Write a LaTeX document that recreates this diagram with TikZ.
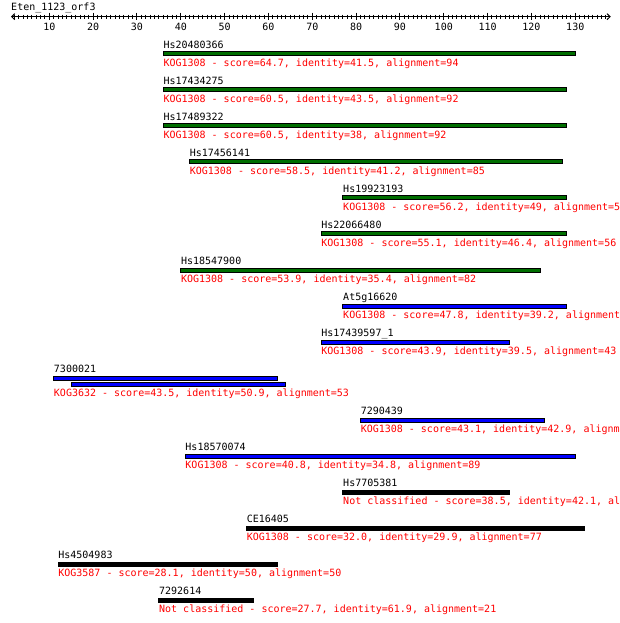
\documentclass[tikz,border=0pt]{standalone}
\usepackage{fontspec}
\setmainfont{DejaVu Sans Mono}
\usepackage{tikz}
\usetikzlibrary{arrows.meta}
\definecolor{kog-green}{RGB}{0,110,0}
\definecolor{kog-blue}{RGB}{0,0,255}
\definecolor{kog-black}{RGB}{0,0,0}
\definecolor{kog-red}{RGB}{255,0,0}

\tikzset{
  hitname/.style={anchor=base west, inner sep=0pt},
  hitinfo/.style={anchor=base west, inner sep=0pt, text=kog-red},
  hitbar/.style={draw=black, line width=0.75pt},
  ruler/.style={line width=0.75pt},
}

\begin{document}
\begin{tikzpicture}[x=3.287pt, y=-0.75pt, font=\fontsize{7.5pt}{9pt}\selectfont]
    \useasboundingbox (-1.255,0) rectangle (140.2,623);
    \clip (-1.255,0) rectangle (140.2,623);

    \node[hitname] (query) at (1.25,10.6) {Eten\_1123\_orf3};
    \draw[ruler, {Straight Barb[length=2.3pt,width=4.5pt]}-{Straight Barb[length=2.3pt,width=4.5pt]}]
        (1.25,16.7) -- (138.1,16.7);
    \foreach \i in {2,...,137}
        \draw[ruler] (\i,14.7) -- (\i,18.7);
    \foreach \i in {10,20,...,130} {
        \draw[ruler] (\i,12.7) -- (\i,20.3);
        \node[anchor=base, inner sep=0pt] (tick\i) at (\i,30.5) {\i};
    }

    \draw[hitbar, fill=kog-green] (36,52) rectangle (130,56);
    \node[hitname] (hs20480366) at (36,48.3) {Hs20480366};
    \node[hitinfo] (hs20480366-info) at (36,66.7) {KOG1308 - score=64.7, identity=41.5, alignment=94};

    \draw[hitbar, fill=kog-green] (36,88) rectangle (128,92);
    \node[hitname] (hs17434275) at (36,84.3) {Hs17434275};
    \node[hitinfo] (hs17434275-info) at (36,102.7) {KOG1308 - score=60.5, identity=43.5, alignment=92};

    \draw[hitbar, fill=kog-green] (36,124) rectangle (128,128);
    \node[hitname] (hs17489322) at (36,120.3) {Hs17489322};
    \node[hitinfo] (hs17489322-info) at (36,138.7) {KOG1308 - score=60.5, identity=38, alignment=92};

    \draw[hitbar, fill=kog-green] (42,160) rectangle (127,164);
    \node[hitname] (hs17456141) at (42,156.3) {Hs17456141};
    \node[hitinfo] (hs17456141-info) at (42,174.7) {KOG1308 - score=58.5, identity=41.2, alignment=85};

    \draw[hitbar, fill=kog-green] (77,196) rectangle (128,200);
    \node[hitname] (hs19923193) at (77,192.3) {Hs19923193};
    \node[hitinfo] (hs19923193-info) at (77,210.7) {KOG1308 - score=56.2, identity=49, alignment=5};

    \draw[hitbar, fill=kog-green] (72,232) rectangle (128,236);
    \node[hitname] (hs22066480) at (72,228.3) {Hs22066480};
    \node[hitinfo] (hs22066480-info) at (72,246.7) {KOG1308 - score=55.1, identity=46.4, alignment=56};

    \draw[hitbar, fill=kog-green] (40,268) rectangle (122,272);
    \node[hitname] (hs18547900) at (40,264.3) {Hs18547900};
    \node[hitinfo] (hs18547900-info) at (40,282.7) {KOG1308 - score=53.9, identity=35.4, alignment=82};

    \draw[hitbar, fill=kog-blue] (77,304) rectangle (128,308);
    \node[hitname] (at5g16620) at (77,300.3) {At5g16620};
    \node[hitinfo] (at5g16620-info) at (77,318.7) {KOG1308 - score=47.8, identity=39.2, alignment=};

    \draw[hitbar, fill=kog-blue] (72,340) rectangle (115,344);
    \node[hitname] (hs17439597) at (72,336.3) {Hs17439597\_1};
    \node[hitinfo] (hs17439597-info) at (72,354.7) {KOG1308 - score=43.9, identity=39.5, alignment=43};

    \draw[hitbar, fill=kog-blue] (11,376) rectangle (62,380);
    \draw[hitbar, fill=kog-blue] (15,382) rectangle (64,386);
    \node[hitname] (dm7300021) at (11,372.3) {7300021};
    \node[hitinfo] (dm7300021-info) at (11,396.5) {KOG3632 - score=43.5, identity=50.9, alignment=53};

    \draw[hitbar, fill=kog-blue] (81,418) rectangle (123,422);
    \node[hitname] (dm7290439) at (81,414.3) {7290439};
    \node[hitinfo] (dm7290439-info) at (81,432.7) {KOG1308 - score=43.1, identity=42.9, alignme};

    \draw[hitbar, fill=kog-blue] (41,454) rectangle (130,458);
    \node[hitname] (hs18570074) at (41,450.3) {Hs18570074};
    \node[hitinfo] (hs18570074-info) at (41,468.7) {KOG1308 - score=40.8, identity=34.8, alignment=89};

    \draw[hitbar, fill=kog-black] (77,490) rectangle (115,494);
    \node[hitname] (hs7705381) at (77,486.3) {Hs7705381};
    \node[hitinfo] (hs7705381-info) at (77,504.7) {Not classified - score=38.5, identity=42.1, al};

    \draw[hitbar, fill=kog-black] (55,526) rectangle (132,530);
    \node[hitname] (ce16405) at (55,522.3) {CE16405};
    \node[hitinfo] (ce16405-info) at (55,540.7) {KOG1308 - score=32.0, identity=29.9, alignment=77};

    \draw[hitbar, fill=kog-black] (12,562) rectangle (62,566);
    \node[hitname] (hs4504983) at (12,558.3) {Hs4504983};
    \node[hitinfo] (hs4504983-info) at (12,576.7) {KOG3587 - score=28.1, identity=50, alignment=50};

    \draw[hitbar, fill=kog-black] (35,598) rectangle (56.5,602);
    \node[hitname] (dm7292614) at (35,594.3) {7292614};
    \node[hitinfo] (dm7292614-info) at (35,612.7) {Not classified - score=27.7, identity=61.9, alignment=21};
\end{tikzpicture}
\end{document}
